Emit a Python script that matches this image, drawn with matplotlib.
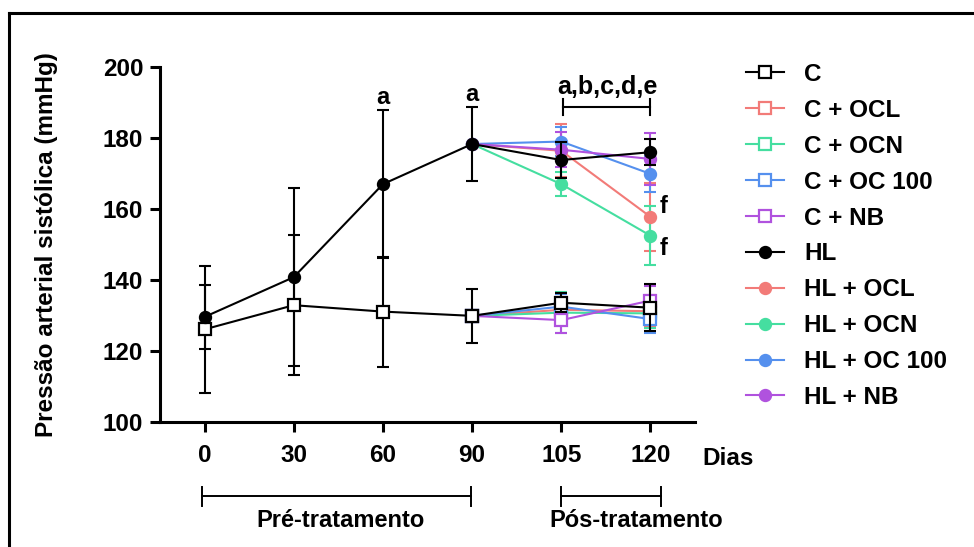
"""Systolic blood pressure over time, pre- and post-treatment groups."""

import matplotlib.pyplot as plt
from matplotlib.lines import Line2D

plt.rcParams["font.family"] = ["Liberation Sans", "DejaVu Sans"]
plt.rcParams["font.weight"] = "bold"
plt.rcParams["axes.labelweight"] = "bold"

DAY_LABELS = ["0", "30", "60", "90", "105", "120"]
POS_ALL = [0, 1, 2, 3, 4, 5]
POS_TREAT = [3, 4, 5]

# controls and hypertensive groups over the whole period
C_MEAN = [126.1, 132.9, 131.1, 129.9, 133.6, 132.2]
C_ERR = [17.8, 19.7, 15.5, 7.6, 2.7, 6.6]
HL_MEAN = [129.6, 140.8, 167.0, 178.3, 173.8, 176.0]
HL_ERR = [9.1, 25.0, 20.9, 10.4, 5.2, 3.6]

# treated groups, days 90 / 105 / 120
C_OCL_MEAN = [129.9, 131.6, 131.2]
C_OCL_ERR = [0.0, 3.5, 4.5]
C_OCN_MEAN = [129.9, 130.8, 130.6]
C_OCN_ERR = [0.0, 5.8, 4.0]
C_OC100_MEAN = [129.9, 132.5, 129.0]
C_OC100_ERR = [0.0, 3.5, 4.0]
C_NB_MEAN = [129.9, 128.7, 134.2]
C_NB_ERR = [0.0, 3.5, 4.0]

HL_OCL_MEAN = [178.3, 176.4, 157.8]
HL_OCL_ERR = [0.0, 7.5, 9.5]
HL_OCN_MEAN = [178.3, 167.0, 152.5]
HL_OCN_ERR = [0.0, 3.3, 8.3]
HL_OC100_MEAN = [178.3, 179.0, 169.9]
HL_OC100_ERR = [0.0, 4.0, 5.0]
HL_NB_MEAN = [178.3, 176.7, 174.1]
HL_NB_ERR = [0.0, 5.0, 7.4]

COL_OCL = "#f27b78"
COL_OCN = "#45dea0"
COL_OC100 = "#5590ee"
COL_NB = "#b052de"

FS = 17.5
LW = 1.5
MS = 8

fig = plt.figure(figsize=(9.74, 5.47), dpi=100)
ax = fig.add_axes([160 / 974, 1 - 422 / 547, 535 / 974, 355 / 547])


def draw(pos, mean, err, color, label, marker, z):
    filled = marker == "o"
    ax.errorbar(pos, mean, yerr=err, fmt="none", ecolor=color, elinewidth=LW,
                capsize=4, capthick=LW, zorder=z)
    ax.plot(pos, mean, color=color, lw=LW, marker=marker, ms=MS if filled else MS + 1,
            mfc=color if filled else "white", mec=color, mew=1.6, label=label, zorder=z + 0.5)


draw(POS_ALL, C_MEAN, C_ERR, "black", "C", "s", 6)
draw(POS_TREAT, C_OCL_MEAN, C_OCL_ERR, COL_OCL, "C + OCL", "s", 3)
draw(POS_TREAT, C_OCN_MEAN, C_OCN_ERR, COL_OCN, "C + OCN", "s", 3)
draw(POS_TREAT, C_OC100_MEAN, C_OC100_ERR, COL_OC100, "C + OC 100", "s", 3)
draw(POS_TREAT, C_NB_MEAN, C_NB_ERR, COL_NB, "C + NB", "s", 3)
draw(POS_ALL, HL_MEAN, HL_ERR, "black", "HL", "o", 6)
draw(POS_TREAT, HL_OCL_MEAN, HL_OCL_ERR, COL_OCL, "HL + OCL", "o", 3)
draw(POS_TREAT, HL_OCN_MEAN, HL_OCN_ERR, COL_OCN, "HL + OCN", "o", 3)
draw(POS_TREAT, HL_OC100_MEAN, HL_OC100_ERR, COL_OC100, "HL + OC 100", "o", 3)
draw(POS_TREAT, HL_NB_MEAN, HL_NB_ERR, COL_NB, "HL + NB", "o", 3)

ax.set_xlim(-0.5, 5.5)
ax.set_ylim(100, 200)
ax.set_xticks(POS_ALL)
ax.set_xticklabels(DAY_LABELS)
ax.set_yticks(range(100, 201, 20))
for side in ("top", "right"):
    ax.spines[side].set_visible(False)
for side in ("left", "bottom"):
    ax.spines[side].set_linewidth(2.2)
ax.tick_params(axis="both", width=2.2, length=7, labelsize=FS, pad=5)
ax.tick_params(axis="x", pad=9)
ax.set_ylabel("Pressão arterial sistólica (mmHg)", fontsize=17.5)
ax.yaxis.set_label_coords(-0.19, 0.5)

xt = ax.get_xaxis_transform()
ax.text(5.58, -0.103, "Dias", transform=xt, fontsize=FS, ha="left", va="center", clip_on=False)

# significance letters
ax.text(2, 191.5, "a", fontsize=17, ha="center", va="center")
ax.text(3, 192.2, "a", fontsize=17, ha="center", va="center")
ax.plot([4.02, 5.0], [188.8, 188.8], color="black", lw=1.5)
for xb in (4.02, 5.0):
    ax.plot([xb, xb], [186.6, 191.0], color="black", lw=1.5)
ax.text(4.52, 194.3, "a,b,c,d,e", fontsize=18, ha="center", va="center")
ax.text(5.1, 160.8, "f", fontsize=17, ha="left", va="center")
ax.text(5.1, 149.0, "f", fontsize=17, ha="left", va="center")

# period brackets below the axis
for x0, x1, label, xc in ((-0.03, 2.99, "Pré-tratamento", 1.52), (4.0, 5.12, "Pós-tratamento", 4.84)):
    ax.plot([x0, x1], [-0.2085, -0.2085], transform=xt, color="black", lw=1.4, clip_on=False)
    for xb in (x0, x1):
        ax.plot([xb, xb], [-0.183, -0.236], transform=xt, color="black", lw=1.4, clip_on=False)
    ax.text(xc, -0.277, label, transform=xt, fontsize=17, ha="center", va="center")

# legend without error bars
fig.legend(*ax.get_legend_handles_labels(), loc="upper left",
           bbox_to_anchor=(746 / 974, 1 - 63 / 547), frameon=False, fontsize=FS,
           handlelength=1.55, handletextpad=0.85, labelspacing=0.53,
           borderpad=0, borderaxespad=0)

# picture frame (left and top edges)
fig.add_artist(Line2D([9 / 974, 9 / 974], [0, 1 - 13 / 547], color="black", lw=2.2))
fig.add_artist(Line2D([9 / 974, 1], [1 - 13 / 547, 1 - 13 / 547], color="black", lw=2.2))

fig.savefig("out.png", dpi=100, facecolor="white")
